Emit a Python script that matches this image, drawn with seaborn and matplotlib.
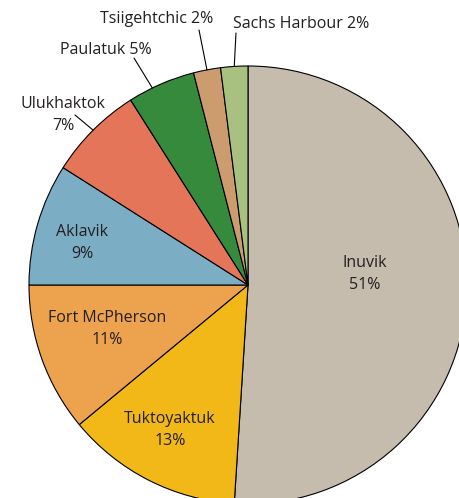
import numpy as np
import seaborn as sns
import matplotlib.pyplot as plt

# Share of population by community (percent)
communities = ['Inuvik', 'Tuktoyaktuk', 'Fort McPherson', 'Aklavik',
               'Ulukhaktok', 'Paulatuk', 'Tsiigehtchic', 'Sachs Harbour']
shares = [51, 13, 11, 9, 7, 5, 2, 2]
colors = ['#C5BCAE', '#F2B817', '#EDA24E', '#7BADC4',
          '#E57558', '#358A3B', '#CD9C6E', '#A8C181']

sns.set_theme(style='white')
plt.rcParams['font.family'] = ['Open Sans', 'DejaVu Sans']

W, H = 459, 498
fig = plt.figure(figsize=(W / 100, H / 100), dpi=100)
ax = fig.add_axes([0, 0, 1, 1])


def px(x, y):
    # image pixel coords -> data coords
    return x, H - y


cx, cy = px(248, 285)
R = 219
wedges, _ = ax.pie(shares, colors=colors, startangle=90, counterclock=False,
                   center=(cx, cy), radius=R,
                   wedgeprops=dict(edgecolor='black', linewidth=0.8))

ax.set_xlim(0, W)
ax.set_ylim(0, H)
ax.set_aspect('equal')
ax.axis('off')

txt = dict(fontsize=11.5, color='#231F20', ha='center', va='center',
           linespacing=1.5)

# labels inside the pie
inside = {'Inuvik': (365, 274), 'Tuktoyaktuk': (170, 430),
          'Fort McPherson': (107, 329), 'Aklavik': (82, 243)}
# labels outside with leader lines: text position, line start, end angle nudge
outside = {'Ulukhaktok': ((63, 115), (75, 115), 0),
           'Paulatuk': ((106, 50), (134, 58), 2.5),
           'Tsiigehtchic': ((157, 19), (199, 30), 0),
           'Sachs Harbour': ((301, 24), (236, 33), 0)}

for w, name, pct in zip(wedges, communities, shares):
    if name in inside:
        ax.text(*px(*inside[name]), f'{name}\n{pct}%', **txt)
    else:
        (tx, ty), (lx, ly), nudge = outside[name]
        sep = '\n' if name == 'Ulukhaktok' else ' '
        ax.text(*px(tx, ty), f'{name}{sep}{pct}%', **txt)
        mid = np.deg2rad((w.theta1 + w.theta2) / 2 + nudge)
        ex, ey = cx + R * np.cos(mid), cy + R * np.sin(mid)
        sx, sy = px(lx, ly)
        ax.plot([sx, ex], [sy, ey], color='black', lw=0.8)

plt.savefig('out.png', dpi=100)
